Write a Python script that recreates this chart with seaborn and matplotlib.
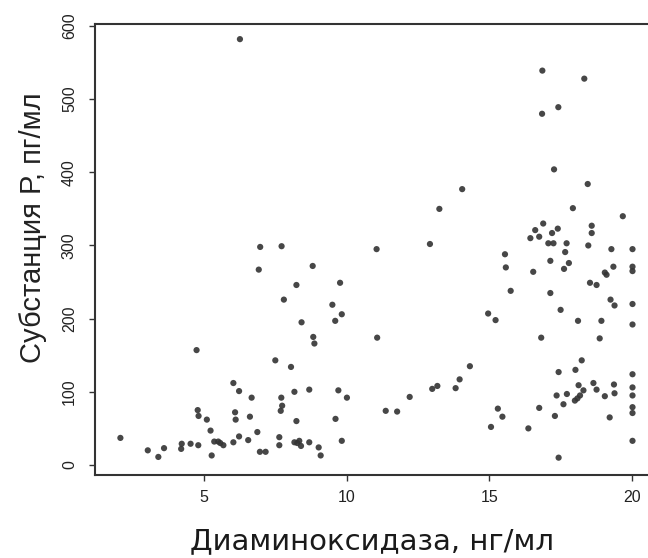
import matplotlib
matplotlib.use("Agg")
import matplotlib.pyplot as plt
import seaborn as sns
import pandas as pd

dao = [2.07, 3.03, 3.4, 3.6, 4.2, 4.22, 4.53, 4.8, 4.74, 4.78, 4.81, 5.1, 5.23, 5.27,
       5.36, 5.5, 5.57, 5.68, 6.03, 6.23, 6.03, 6.09, 6.11, 6.23, 6.26, 6.55, 6.61, 6.67,
       6.87, 6.92, 6.96, 6.97, 7.16, 7.5, 7.64, 7.64, 7.69, 7.71, 7.74, 7.72, 7.8, 8.05,
       8.17, 8.17, 8.24, 8.24, 8.27, 8.34, 8.4, 8.42, 8.69, 8.69, 8.81, 8.83, 8.87, 9.02,
       9.09, 9.5, 9.6, 9.61, 9.71, 9.77, 9.83, 9.83, 10.01, 11.05, 11.07, 11.37, 11.77,
       12.21, 12.92, 13.0, 13.18, 13.25, 13.82, 13.96, 14.05, 14.32, 14.96, 15.06, 15.22,
       15.3, 15.46, 15.55, 15.58, 15.75, 16.37, 16.44, 16.54, 16.61, 16.75, 16.75, 16.82,
       16.85, 16.86, 16.89, 17.07, 17.14, 17.14, 17.2, 17.25, 17.27, 17.3, 17.36, 17.4,
       17.42, 17.43, 17.43, 17.5, 17.6, 17.62, 17.66, 17.71, 17.72, 17.79, 17.93, 18.0,
       18.02, 18.09, 18.11, 18.13, 18.18, 18.24, 18.3, 18.33, 18.45, 18.47, 18.53, 18.59,
       18.59, 18.65, 18.76, 18.76, 18.87, 18.93, 19.05, 19.05, 19.11, 19.22, 19.25, 19.28,
       19.35, 19.37, 19.39, 19.39, 19.68,
       20.02, 20.02, 20.02, 20.02, 20.02, 20.02, 20.02, 20.02, 20.02, 20.02, 20.02]

subst_p = [37, 20, 11, 23, 22, 29, 29, 27, 157, 75, 67, 62, 47, 13,
           32, 32, 30, 27, 112, 101, 31, 72, 62, 39, 582, 34, 66, 92,
           45, 267, 18, 298, 18, 143, 38, 27, 74, 92, 81, 299, 226, 134,
           100, 31, 246, 60, 30, 33, 26, 195, 103, 31, 272, 175, 166, 24,
           13, 219, 197, 63, 102, 249, 206, 33, 92, 295, 174, 74, 73,
           93, 302, 104, 108, 350, 105, 117, 377, 135, 207, 52, 198,
           77, 66, 288, 270, 238, 50, 310, 264, 321, 312, 78, 174,
           480, 539, 330, 303, 279, 235, 317, 303, 404, 67, 95, 323,
           489, 127, 10, 212, 83, 268, 291, 303, 97, 276, 351, 88,
           130, 91, 197, 109, 95, 143, 102, 528, 384, 300, 249, 327,
           317, 112, 246, 103, 173, 197, 263, 94, 260, 65, 226, 295,
           271, 110, 218, 98, 340,
           295, 271, 265, 220, 192, 124, 106, 95, 79, 71, 33]

x_ticks = [5, 10, 15, 20]
y_ticks = [0, 100, 200, 300, 400, 500, 600]
x_label = "Диаминоксидаза, нг/мл"
y_label = "Субстанция Р, пг/мл"

df = pd.DataFrame({"dao": dao, "sp": subst_p})

sns.set_theme(style="white")
plt.rcParams["font.family"] = ["Liberation Sans", "DejaVu Sans"]

fig = plt.figure(figsize=(6.48, 5.58), dpi=100)
ax = fig.add_axes([95 / 648, 83 / 558, 562 / 648, 451 / 558])

sns.scatterplot(data=df, x="dao", y="sp", ax=ax, color="#333333", s=20,
                edgecolor="none", alpha=0.9, marker="o", legend=False)

ax.set_xlim(1.18, 1.18 + 562 / 28.53)
ax.set_ylim(-13.7, 602.7)
ax.set_xticks(x_ticks)
ax.set_yticks(y_ticks)
ax.set_xticklabels([str(t) for t in x_ticks], fontsize=11.5, color="#222222")
ax.set_yticklabels([str(t) for t in y_ticks], fontsize=11.5, color="#222222",
                   rotation=90, va="center")
ax.tick_params(axis="both", which="major", length=4, width=1, color="#333333",
               direction="out", left=True, bottom=True)
ax.tick_params(axis="x", pad=7)
ax.tick_params(axis="y", pad=9)

for side in ["left", "bottom", "top", "right"]:
    ax.spines[side].set_visible(True)
    ax.spines[side].set_color("#333333")
    ax.spines[side].set_linewidth(1.5)

ax.set_xlabel(x_label, fontsize=21, family=["DejaVu Sans"], color="#1a1a1a")
ax.set_ylabel(y_label, fontsize=21, color="#222222")
ax.xaxis.set_label_coords((372 - 95) / 562, -0.115)
ax.yaxis.set_label_coords(-0.085, (475 - 228) / 451)

fig.savefig("out.png", dpi=100, facecolor="white")
